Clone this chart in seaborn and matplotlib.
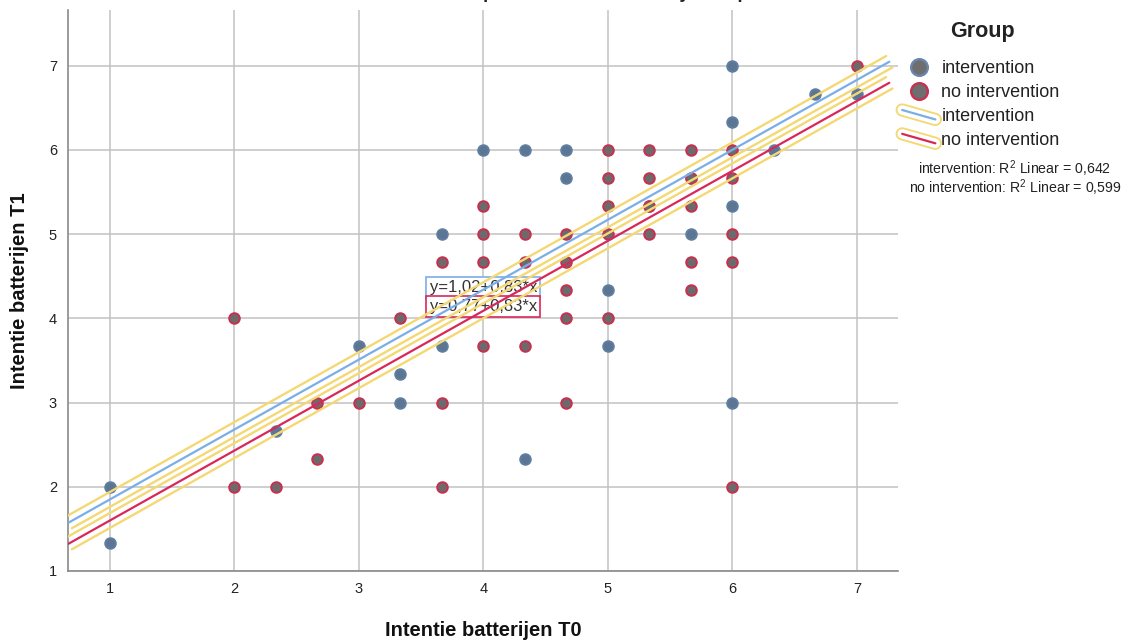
import numpy as np
import pandas as pd
import matplotlib
matplotlib.use("Agg")
import matplotlib.pyplot as plt
import matplotlib.patheffects as pe
from matplotlib.lines import Line2D
from matplotlib.legend_handler import HandlerBase
import seaborn as sns

# ---- data -------------------------------------------------------------
t = 1 / 3
int_t0 = [1, 1, 2 + t, 3, 3 + t, 3 + t, 3 + 2 * t, 3 + 2 * t, 4, 4 + t, 4 + 2 * t,
          4 + 2 * t, 4 + t, 5, 5, 5 + t, 5 + 2 * t, 5 + 2 * t, 6, 6, 6, 6,
          6 + t, 6 + 2 * t, 7]
int_t1 = [2, 1 + t, 2 + 2 * t, 3 + 2 * t, 3 + t, 3, 3 + 2 * t, 5, 6, 6, 6,
          5 + 2 * t, 2 + t, 4 + t, 3 + 2 * t, 5 + t, 5 + 2 * t, 5, 5 + t, 3,
          6 + t, 7, 6, 6 + 2 * t, 6 + 2 * t]

noint_t0 = [2, 2, 2 + t, 2 + 2 * t, 2 + 2 * t, 3, 3 + t, 3 + 2 * t, 3 + 2 * t,
            3 + 2 * t, 4, 4, 4, 4, 4 + t, 4 + t, 4 + t, 4 + 2 * t, 4 + 2 * t,
            4 + 2 * t, 4 + 2 * t, 4 + 2 * t, 5, 5, 5, 5, 5, 5 + t, 5 + t,
            5 + t, 5 + t, 5 + 2 * t, 5 + 2 * t, 5 + 2 * t, 5 + 2 * t, 5 + 2 * t,
            6, 6, 6, 6, 6, 7]
noint_t1 = [4, 2, 2, 3, 2 + t, 3, 4, 4 + 2 * t, 3, 2, 5 + t, 5, 4 + 2 * t,
            3 + 2 * t, 5, 4 + 2 * t, 3 + 2 * t, 5, 4 + 2 * t, 4 + t, 4, 3,
            6, 5 + 2 * t, 5 + t, 5, 4, 6, 5 + 2 * t, 5 + t, 5, 6, 5 + t,
            4 + 2 * t, 4 + t, 5 + 2 * t, 6, 5 + 2 * t, 5, 4 + 2 * t, 2, 7]

groups = ["intervention", "no intervention"]
fit_intercept = [1.02, 0.77]
fit_slope = [0.83, 0.83]
r_squared = ["0,642", "0,599"]
x_ticks = [1, 2, 3, 4, 5, 6, 7]
y_ticks = [1, 2, 3, 4, 5, 6, 7]

df = pd.DataFrame({
    "T0": int_t0 + noint_t0,
    "T1": int_t1 + noint_t1,
    "Group": [groups[0]] * len(int_t0) + [groups[1]] * len(noint_t0),
})

# ---- style -------------------------------------------------------------
sns.set_theme(style="white")
plt.rcParams["font.family"] = ["Liberation Sans", "DejaVu Sans"]
plt.rcParams["mathtext.fontset"] = "custom"
plt.rcParams["mathtext.rm"] = "Liberation Sans"
plt.rcParams["mathtext.it"] = "Liberation Sans:italic"

line_cols = ["#7aaee6", "#d8285a"]
face_cols = ["#5b7592", "#6c6a6c"]
edge_cols = ["#5f7ea2", "#c8304f"]
yellow = "#f4d874"
grid_col = "#c2c2c2"
text_col = "#222222"

W, H = 1138, 642
fig = plt.figure(figsize=(W / 100, H / 100), dpi=100)
ax = fig.add_axes([68 / W, (H - 571) / H, (898 - 68) / W, (571 - 10) / H])

xlim = (0.663, 7.33)
ylim = (1.0, 7.66)
ax.set_xlim(*xlim)
ax.set_ylim(*ylim)
ax.set_xticks(x_ticks)
ax.set_yticks(y_ticks)
ax.grid(True, color=grid_col, lw=1.1)
ax.set_axisbelow(True)
for s in ["top", "right"]:
    ax.spines[s].set_visible(False)
for s in ["left", "bottom"]:
    ax.spines[s].set_color("#8a8a8a")
    ax.spines[s].set_linewidth(1.2)
ax.tick_params(axis="both", length=0, labelsize=10.5, labelcolor=text_col, pad=8)

# scatter points
for g, fc, ec in zip(groups, face_cols, edge_cols):
    sub = df[df["Group"] == g]
    sns.scatterplot(data=sub, x="T0", y="T1", ax=ax, s=58, color=fc,
                    edgecolor=ec, linewidth=1.4, zorder=3, legend=False)

# perpendicular offset (in points) of the highlight band around a fit line
def band_offset(slope, dist_px):
    p0 = ax.transData.transform((1, 1))
    p1 = ax.transData.transform((2, 1 + slope))
    d = p1 - p0
    d = d / np.hypot(*d)
    return np.array([-d[1], d[0]]) * dist_px * 72 / fig.dpi

x_fit = np.array([xlim[0] + 0.005, 7.26])
for b0, b1, col in zip(fit_intercept, fit_slope, line_cols):
    n = band_offset(b1, 6.5)
    effects = [
        pe.Stroke(offset=(n[0], n[1]), linewidth=1.7, foreground=yellow),
        pe.Stroke(offset=(-n[0], -n[1]), linewidth=1.7, foreground=yellow),
        pe.Normal(),
    ]
    fit_df = pd.DataFrame({"x": x_fit, "y": b0 + b1 * x_fit})
    sns.lineplot(data=fit_df, x="x", y="y", ax=ax, color=col, lw=1.6,
                 zorder=5, path_effects=effects)

# equation labels
eq_fmt = "y={:.2f}+{:.2f}*x"
eq_y = [4.36, 4.14]
for b0, b1, col, yy in zip(fit_intercept, fit_slope, line_cols, eq_y):
    txt = eq_fmt.format(b0, b1).replace(".", ",")
    ax.text(4.0, yy, txt, ha="center", va="center", fontsize=12,
            color="#333333", zorder=4,
            bbox=dict(boxstyle="square,pad=0.2", fc="white", ec=col, lw=1.2))

ax.set_xlabel("Intentie batterijen T0", fontsize=14.5, fontweight="bold",
              labelpad=18, color="#111111")
ax.set_ylabel("Intentie batterijen T1", fontsize=14.5, fontweight="bold",
              labelpad=14, color="#111111")

fig.text(585 / W, 1 + 2 / H, "Scatterplot Intentie T0 en T1 by Group",
         ha="center", va="baseline", fontsize=13, fontweight="bold",
         color=text_col)

# ---- legend -------------------------------------------------------------
class SlantLine(HandlerBase):
    def create_artists(self, legend, orig, xd, yd, w, h, fs, trans):
        ln = Line2D([-xd + 3, -xd + w - 3], [-yd + h * 0.85, -yd + h * 0.1])
        ln.update_from(orig)
        ln.set_transform(trans)
        return [ln]

leg_effects = [pe.Stroke(linewidth=9.5, foreground=yellow),
               pe.Stroke(linewidth=6.8, foreground="white"), pe.Normal()]
handles = []
for ec in ["#6b86ad", "#c8304f"]:
    handles.append(Line2D([], [], ls="none", marker="o", markersize=12,
                          markerfacecolor="#6e6e6e", markeredgecolor=ec,
                          markeredgewidth=1.7))
line_handles = [Line2D([], [], color=c, lw=1.6, path_effects=leg_effects)
                for c in line_cols]
labels = groups + groups

fig.text(982 / W, 1 - 32 / H, "Group", ha="center", va="center",
         fontsize=15.5, fontweight="bold", color=text_col)
leg = fig.legend(handles + line_handles, labels, loc="upper left",
                 bbox_to_anchor=(898 / W, 1 - 60 / H), frameon=False,
                 fontsize=13, handlelength=2.3, handletextpad=0.1,
                 labelspacing=0.38, borderaxespad=0, borderpad=0,
                 handler_map={line_handles[0]: SlantLine(),
                              line_handles[1]: SlantLine()})
for t_ in leg.get_texts():
    t_.set_color(text_col)

r2_lines = [f"{g}: R$^2$ Linear = {r}" for g, r in zip(groups, r_squared)]
fig.text(1015 / W, 1 - 169 / H, r2_lines[0], ha="center", va="center",
         fontsize=10.2, color=text_col)
fig.text(1015 / W, 1 - 188 / H, r2_lines[1], ha="center", va="center",
         fontsize=10.2, color=text_col)

fig.savefig("out.png", dpi=100, facecolor="white")
